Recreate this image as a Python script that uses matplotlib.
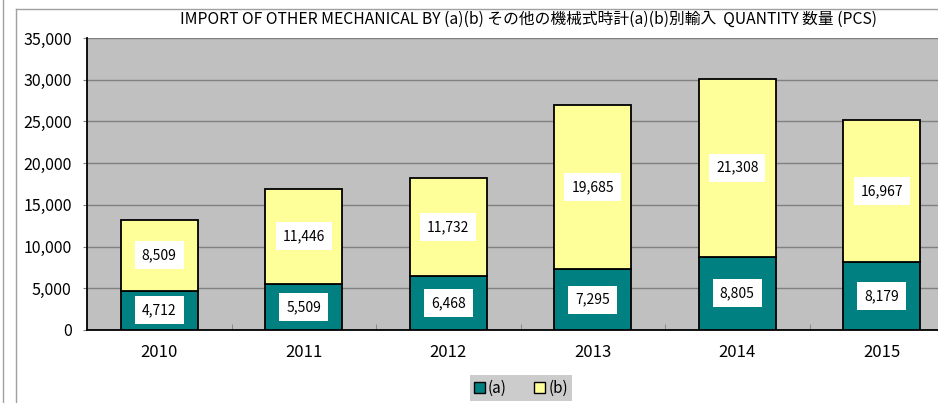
import matplotlib
matplotlib.use("Agg")
import matplotlib.pyplot as plt
from matplotlib.patches import Patch
from matplotlib.lines import Line2D

plt.rcParams["font.family"] = ["Noto Sans CJK JP", "DejaVu Sans"]

# ── Data ──────────────────────────────────────────────────────────────────────
years = ["2010", "2011", "2012", "2013", "2014", "2015"]
a_vals = [4712, 5509, 6468, 7295, 8805, 8179]
b_vals = [8509, 11446, 11732, 19685, 21308, 16967]
y_ticks = [0, 5000, 10000, 15000, 20000, 25000, 30000, 35000]

TITLE = "IMPORT OF OTHER MECHANICAL BY (a)(b) その他の機械式時計(a)(b)別輸入  QUANTITY 数量 (PCS)"
TEAL = "#008080"
YELLOW = "#FFFF99"
GREY_BG = "#C0C0C0"

# ── Figure ────────────────────────────────────────────────────────────────────
W, H = 938, 403
fig = plt.figure(figsize=(W / 100, H / 100), dpi=100)

# frame lines of the chart area (Excel-style)
fig.add_artist(Line2D([2.5 / W, 2.5 / W], [0, 1], color="#a0a0a0", lw=1))
fig.add_artist(Line2D([15.5 / W, 15.5 / W], [0, 1 - 8.5 / H], color="#a0a0a0", lw=1))
fig.add_artist(Line2D([15.5 / W, 1], [1 - 8.5 / H, 1 - 8.5 / H], color="#a0a0a0", lw=1))

# plot area runs a bit past the right edge, like the source screenshot
left, right, top, bottom = 87, 954, 38, 330
ax = fig.add_axes([left / W, 1 - bottom / H, (right - left) / W, (bottom - top) / H])
ax.set_facecolor(GREY_BG)

x = list(range(len(years)))
bar_w = 0.53
ax.bar(x, a_vals, width=bar_w, color=TEAL, edgecolor="black", lw=1.3, zorder=3)
ax.bar(x, b_vals, width=bar_w, bottom=a_vals, color=YELLOW,
       edgecolor="black", lw=1.3, zorder=3)

box = dict(boxstyle="square,pad=0.5", fc="white", ec="none")
for xi, a, b in zip(x, a_vals, b_vals):
    ax.text(xi, a / 2, f"{a:,}", ha="center", va="center", fontsize=10,
            bbox=box, zorder=4)
    ax.text(xi, a + b / 2, f"{b:,}", ha="center", va="center", fontsize=10,
            bbox=box, zorder=4)

ax.set_xlim(-0.5, len(years) - 0.5)
ax.set_ylim(0, 35000)
ax.set_yticks(y_ticks)
ax.set_yticklabels([f"{v:,}" for v in y_ticks], fontsize=11.5)
ax.yaxis.grid(True, color="#808080", lw=1, zorder=1)
ax.tick_params(axis="y", direction="out", length=3, color="#808080", pad=8)

ax.set_xticks(x)
ax.set_xticklabels(years, fontsize=12)
ax.set_xticks([i + 0.5 for i in x[:-1]], minor=True)
ax.tick_params(axis="x", which="major", length=0, pad=10)
ax.tick_params(axis="x", which="minor", direction="in", length=4, color="#808080")

for side in ["top", "right"]:
    ax.spines[side].set_visible(False)
ax.spines["left"].set_color("black")
ax.spines["bottom"].set_color("black")
ax.spines["left"].set_linewidth(1.3)
ax.spines["bottom"].set_linewidth(1.3)

fig.text(528 / W, 1 - 19 / H, TITLE, ha="center", va="center", fontsize=11.3)

handles = [Patch(facecolor=TEAL, edgecolor="black", label="(a)"),
           Patch(facecolor=YELLOW, edgecolor="black", label="(b)")]
leg = fig.legend(handles=handles, loc="center", bbox_to_anchor=(521 / W, 1 - 388 / H),
                 ncol=2, fontsize=11, frameon=True, fancybox=False,
                 handlelength=0.7, handleheight=0.7, handletextpad=0.2,
                 columnspacing=1.8, borderpad=0.3)
leg.get_frame().set_facecolor(GREY_BG)
leg.get_frame().set_edgecolor("none")

fig.savefig("out.png", dpi=100)
